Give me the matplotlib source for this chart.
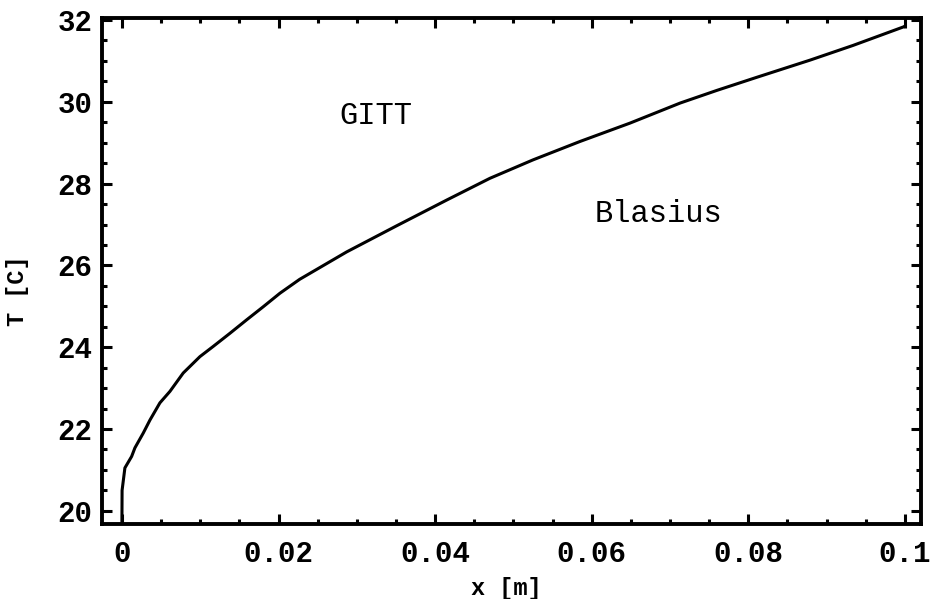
import matplotlib
matplotlib.use("Agg")
import matplotlib.pyplot as plt
from matplotlib.ticker import MultipleLocator

# Data
x_m = [0.0, 0.00002, 0.00038, 0.00124, 0.00166, 0.00272, 0.00358, 0.00485,
       0.00613, 0.00783, 0.00996, 0.01166, 0.01379, 0.01593, 0.01805, 0.02018,
       0.0227, 0.0287, 0.0351, 0.0415, 0.0470, 0.0525, 0.0585, 0.0649,
       0.0713, 0.0760, 0.0811, 0.0879, 0.0934, 0.0998, 0.1000]
T_c = [19.7, 20.5, 21.05, 21.33, 21.54, 21.90, 22.22, 22.64,
       22.92, 23.37, 23.77, 24.02, 24.34, 24.67, 24.99, 25.32,
       25.66, 26.33, 26.97, 27.60, 28.13, 28.58, 29.03, 29.48,
       29.97, 30.28, 30.60, 31.02, 31.38, 31.83, 31.85]

x_ticks = [0, 0.02, 0.04, 0.06, 0.08, 0.1]
x_tick_labels = ["0", "0.02", "0.04", "0.06", "0.08", "0.1"]
y_ticks = [20, 22, 24, 26, 28, 30, 32]
y_tick_labels = ["20", "22", "24", "26", "28", "30", "32"]

annotations = [("GITT", 0.0325, 29.65), ("Blasius", 0.0685, 27.25)]

mono = "Liberation Mono"

fig = plt.figure(figsize=(9.32, 5.99), dpi=100)
ax = fig.add_axes([0.1094, 0.126, 0.8786, 0.844])

ax.plot(x_m, T_c, color="black", lw=2.2, solid_capstyle="butt")

ax.set_xlim(-0.00255, 0.10204)
ax.set_ylim(19.69, 32.05)

ax.set_xticks(x_ticks)
ax.set_xticklabels(x_tick_labels)
ax.set_yticks(y_ticks)
ax.set_yticklabels(y_tick_labels)
ax.xaxis.set_minor_locator(MultipleLocator(0.005))
ax.yaxis.set_minor_locator(MultipleLocator(0.5))

for lab in ax.get_xticklabels() + ax.get_yticklabels():
    lab.set_fontfamily(mono)
    lab.set_fontweight("bold")
    lab.set_fontsize(21)

ax.tick_params(which="major", direction="in", length=7, width=2.2,
               top=True, right=True, color="black")
ax.tick_params(which="minor", direction="in", length=3.5, width=2.2,
               top=True, right=True, color="black")
ax.tick_params(axis="x", which="major", pad=12)
ax.tick_params(axis="y", which="major", pad=7)

for sp in ax.spines.values():
    sp.set_linewidth(2.8)
    sp.set_color("black")

ax.set_xlabel("x [m]", fontfamily=mono, fontweight="bold", fontsize=17)
ax.set_ylabel("T [C]", fontfamily=mono, fontweight="bold", fontsize=17)
ax.xaxis.set_label_coords(0.494, -0.105)
ax.yaxis.set_label_coords(-0.089, 0.46)

for txt, xx, yy in annotations:
    ax.text(xx, yy, txt, fontfamily=mono, fontsize=22, ha="center", va="center")

fig.savefig("out.png", dpi=100, facecolor="white")
